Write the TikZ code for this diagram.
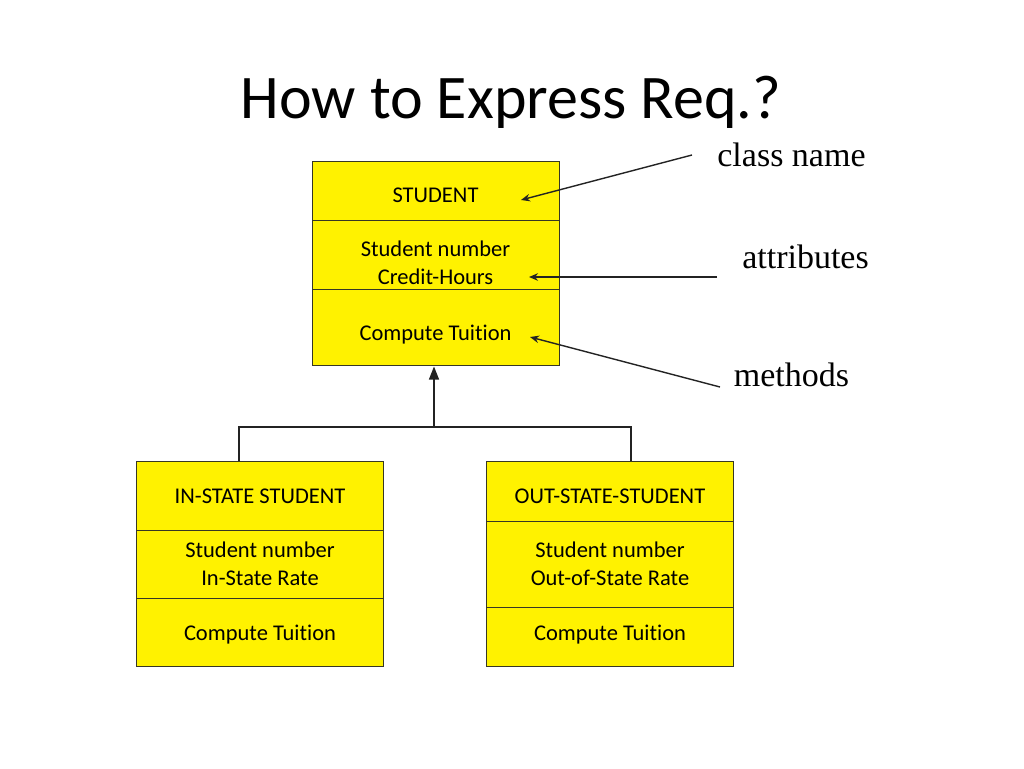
\documentclass[tikz,border=0pt]{standalone}
\usepackage{fontspec}
\setmainfont{Liberation Serif}
\newfontfamily\calibri{Carlito}[Ligatures=NoCommon]
\usetikzlibrary{arrows.meta,positioning}
\definecolor{edge}{RGB}{55,55,35}
\definecolor{wire}{RGB}{35,35,35}

\begin{document}
\begin{tikzpicture}[x=1pt,y=-1pt]
    \tikzstyle{part}=[rectangle, draw=edge, line width=1pt, fill=yellow, minimum width=247pt, inner sep=0pt, outer sep=0pt]
    \tikzstyle{txt}=[font=\calibri\fontsize{22.5}{28}\selectfont, align=center, inner sep=0pt]
    \tikzstyle{note}=[font=\fontsize{34}{40}\selectfont, anchor=base, inner sep=0pt]
    \tikzstyle{pointer}=[draw=wire, line width=1.4pt, -{Stealth[length=9pt,width=7.5pt]}]
    \tikzstyle{link}=[draw=wire, line width=1.3pt]

    \useasboundingbox (0,0) rectangle (1024,768);
    \node[font=\calibri\fontsize{62}{70}\selectfont, anchor=base] (title) at (511,118) {How to Express Req.?};

    \node[part, minimum height=59pt]                     (stuhead) at (435.5,190.5) {};
    \node[part, minimum height=69pt, below=0pt of stuhead] (stuattr) {};
    \node[part, minimum height=76pt, below=0pt of stuattr] (stuops)  {};
    \node[txt] (stuheadtxt) at ([yshift=-5pt]stuhead.center)   {STUDENT};
    \node[txt] (stuattrtxt) at ([yshift=-8.5pt]stuattr.center) {Student number\\Credit-Hours};
    \node[txt] (stuopstxt)  at ([yshift=-7.5pt]stuops.center)  {Compute Tuition};

    \node[part, minimum height=69pt]                     (inhead) at (260,495.5) {};
    \node[part, minimum height=68pt, below=0pt of inhead] (inattr) {};
    \node[part, minimum height=68pt, below=0pt of inattr] (inops)  {};
    \node[txt] (inheadtxt) at ([yshift=-0.5pt]inhead.center) {IN-STATE STUDENT};
    \node[txt] (inattrtxt) at ([yshift=0pt]inattr.center)    {Student number\\In-State Rate};
    \node[txt] (inopstxt)  at ([yshift=-2.5pt]inops.center)  {Compute Tuition};

    \node[part, minimum height=60pt]                      (outhead) at (610,491) {};
    \node[part, minimum height=86pt, below=0pt of outhead] (outattr) {};
    \node[part, minimum height=59pt, below=0pt of outattr] (outops)  {};
    \node[txt] (outheadtxt) at ([yshift=-5pt]outhead.center) {OUT-STATE-STUDENT};
    \node[txt] (outattrtxt) at ([yshift=0pt]outattr.center)  {Student number\\Out-of-State Rate};
    \node[txt] (outopstxt)  at ([yshift=2pt]outops.center)   {Compute Tuition};

    \coordinate (joint)   at (434,427);
    \coordinate (tip)     at (434,366.5);
    \coordinate (indrop)  at (239,461);
    \coordinate (outdrop) at (631,461);
    \draw[link] (indrop) |- (joint) -| (outdrop);
    \draw[link, -{Triangle[length=13pt,width=10pt]}] (joint) -- (tip);

    \node[note] (clsname) at (791.5,166.5) {class name};
    \node[note] (attrs)   at (805.5,268)   {attributes};
    \node[note] (meths)   at (791.5,386.5) {methods};
    \coordinate (clsfrom)  at (692,155);
    \coordinate (clsto)    at (521,200);
    \coordinate (attrfrom) at (717,277);
    \coordinate (attrto)   at (529,277);
    \coordinate (methfrom) at (720,387);
    \coordinate (methto)   at (530,337);
    \draw[pointer] (clsfrom)  -- (clsto);
    \draw[pointer] (attrfrom) -- (attrto);
    \draw[pointer] (methfrom) -- (methto);
\end{tikzpicture}
\end{document}
